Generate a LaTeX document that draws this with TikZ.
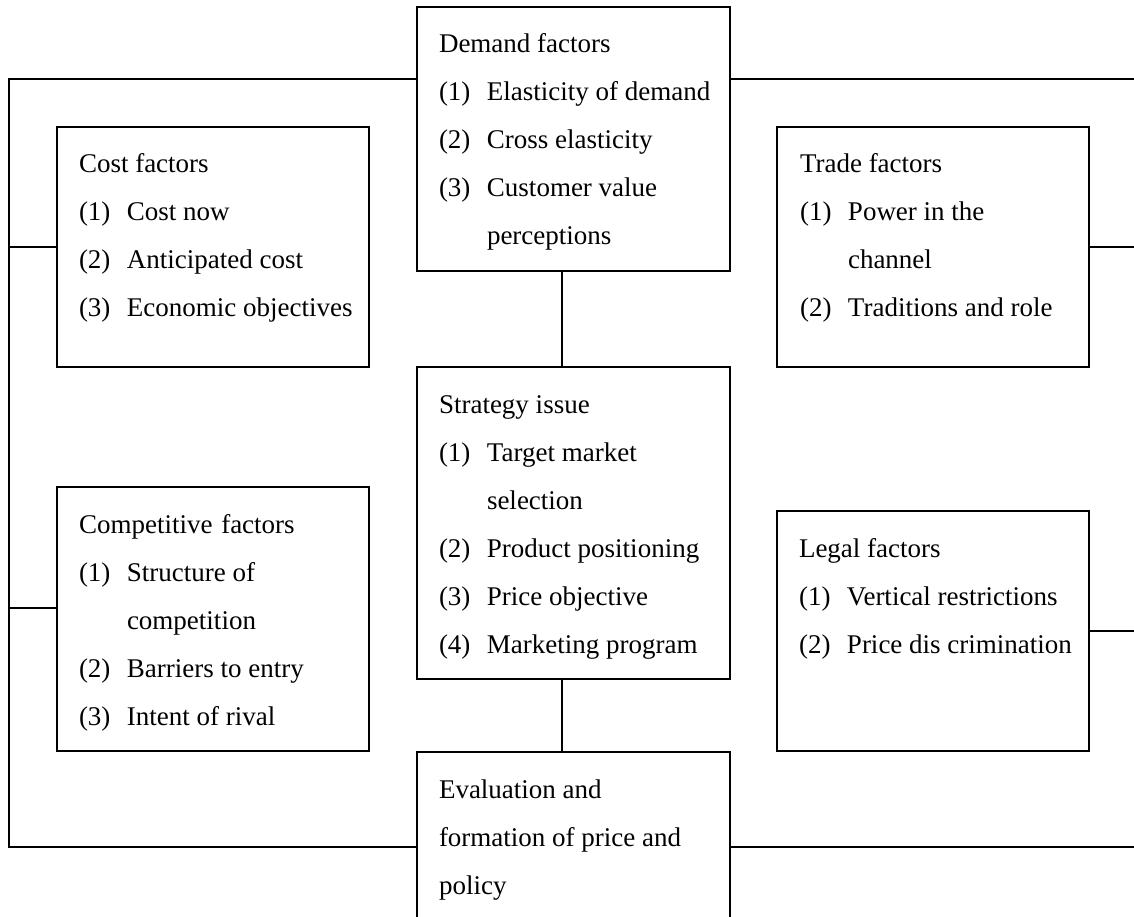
\documentclass[tikz,border=0pt]{standalone}
\usepackage{fontspec}
\setmainfont{Liberation Serif}
\usetikzlibrary{calc}
\newcommand\pnum[1]{\makebox[48pt][l]{#1}}
\tikzset{
  box/.style={draw, line width=1.8pt, inner sep=0pt, outer sep=0pt, anchor=north west},
  txt/.style={inner sep=0pt, outer sep=0pt, anchor=base west, font=\fontsize{27}{48}\selectfont},
  link/.style={line width=1.8pt},
}
\begin{document}
\begin{tikzpicture}[x=1pt,y=-1pt]
\clip (0,0) rectangle (1134,917);
\fill[white] (0,0) rectangle (1134,917);
% boxes
\node[box, minimum width=313pt, minimum height=264pt] (demand) at (417,7) {};
\node[box, minimum width=312pt, minimum height=240pt] (cost) at (57,127) {};
\node[box, minimum width=312pt, minimum height=240pt] (trade) at (777,127) {};
\node[box, minimum width=313pt, minimum height=312pt] (strategy) at (417,367) {};
\node[box, minimum width=312pt, minimum height=264pt] (compet) at (57,487) {};
\node[box, minimum width=312pt, minimum height=240pt] (legal) at (777,511) {};
\node[box, minimum width=313pt, minimum height=220pt] (eval) at (417,752) {};
% texts
\node[txt] (demandT) at ($(demand.north west)+(22,46)$) {\begin{tabular}[t]{@{}l@{}}
Demand factors\\
\pnum{(1)}Elasticity of demand\\
\pnum{(2)}Cross elasticity\\
\pnum{(3)}Customer value\\
\pnum{}perceptions
\end{tabular}};
\node[txt] (costT) at ($(cost.north west)+(22,46)$) {\begin{tabular}[t]{@{}l@{}}
Cost factors\\
\pnum{(1)}Cost now\\
\pnum{(2)}Anticipated cost\\
\pnum{(3)}Economic objectives
\end{tabular}};
\node[txt] (tradeT) at ($(trade.north west)+(23,46)$) {\begin{tabular}[t]{@{}l@{}}
Trade factors\\
\pnum{(1)}Power in the\\
\pnum{}channel\\
\pnum{(2)}Traditions and role
\end{tabular}};
\node[txt] (strategyT) at ($(strategy.north west)+(22,46)$) {\begin{tabular}[t]{@{}l@{}}
Strategy issue\\
\pnum{(1)}Target market\\
\pnum{}selection\\
\pnum{(2)}Product positioning\\
\pnum{(3)}Price objective\\
\pnum{(4)}Marketing program
\end{tabular}};
\node[txt] (competT) at ($(compet.north west)+(22,46)$) {\begin{tabular}[t]{@{}l@{}}
Competitive\hspace{2pt} factors\\
\pnum{(1)}Structure of\\
\pnum{}competition\\
\pnum{(2)}Barriers to entry\\
\pnum{(3)}Intent of rival
\end{tabular}};
\node[txt] (legalT) at ($(legal.north west)+(22,46)$) {\begin{tabular}[t]{@{}l@{}}
Legal factors\\
\pnum{(1)}Vertical restrictions\\
\pnum{(2)}Price dis crimination
\end{tabular}};
\node[txt] (evalT) at ($(eval.north west)+(22,46)$) {\begin{tabular}[t]{@{}l@{}}
Evaluation and\\
formation of price and\\
policy
\end{tabular}};
% connector corners
\coordinate (tl) at (9,79);
\coordinate (bl) at (9,847);
\coordinate (tr) at (1134,79);
\coordinate (br) at (1134,847);
\coordinate (vx) at (562,0);
\coordinate (cy) at (0,608);
% connectors
\draw[link] (tl -| demand.west) -- (tl) -- (bl) -- (bl -| eval.west);
\draw[link] (tl -| demand.east) -- (tr);
\draw[link] (bl -| eval.east) -- (br);
\draw[link] (cost.west) -- (cost.west -| tl);
\draw[link] (cy -| compet.west) -- (cy -| tl);
\draw[link] (trade.east) -- (trade.east -| tr);
\draw[link] (legal.east) -- (legal.east -| tr);
\draw[link] (demand.south -| vx) -- (strategy.north -| vx);
\draw[link] (strategy.south -| vx) -- (eval.north -| vx);
\end{tikzpicture}
\end{document}
